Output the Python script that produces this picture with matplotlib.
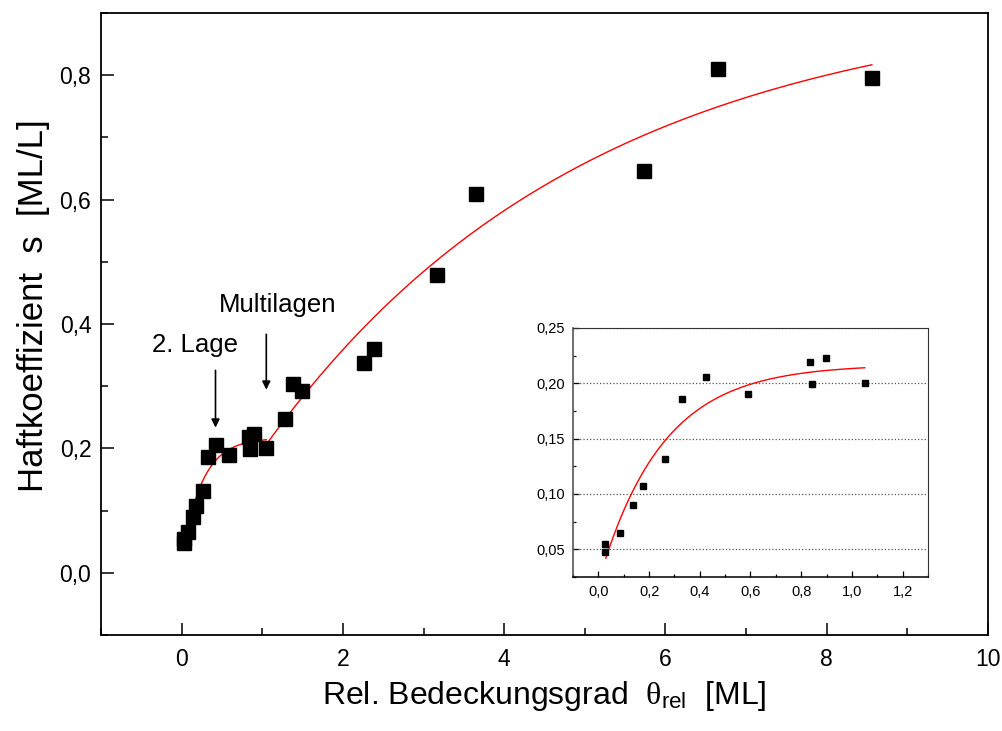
import matplotlib
matplotlib.use("Agg")
import matplotlib.pyplot as plt
import numpy as np
from matplotlib.ticker import MultipleLocator, FuncFormatter

plt.rcParams['font.family'] = ['Liberation Sans', 'DejaVu Sans']
plt.rcParams['mathtext.fontset'] = 'custom'
plt.rcParams['mathtext.rm'] = 'Liberation Sans'
plt.rcParams['mathtext.it'] = 'Liberation Serif'

# ---- data ----
theta = [0.025, 0.026, 0.084, 0.138, 0.176, 0.263, 0.329, 0.426, 0.589,
         0.836, 0.843, 0.899, 1.051,
         1.28, 1.38, 1.49, 2.26, 2.38, 3.165, 3.655, 5.73, 6.65, 8.56]
s = [0.048, 0.055, 0.065, 0.090, 0.107, 0.132, 0.186, 0.206, 0.190,
     0.219, 0.199, 0.223, 0.200,
     0.248, 0.304, 0.292, 0.337, 0.360, 0.478, 0.609, 0.646, 0.810, 0.795]
n_inset = 13  # first points shown in the inset

# fit curves y = a - b*exp(-x/t)  (two segments)
fit1 = dict(a=0.217, b=0.1966, t=0.25, x0=0.029, x1=1.051)
fit2 = dict(a=0.927, b=0.937, t=4.0, x0=1.05, x1=8.56)

main_xticks = [0, 2, 4, 6, 8, 10]
main_yticks = [0.0, 0.2, 0.4, 0.6, 0.8]
inset_xticks = [0.0, 0.2, 0.4, 0.6, 0.8, 1.0, 1.2]
inset_yticks = [0.05, 0.10, 0.15, 0.20, 0.25]


def fitcurve(p):
    x = np.linspace(p['x0'], p['x1'], 200)
    return x, p['a'] - p['b'] * np.exp(-x / p['t'])


def comma(fmt):
    return FuncFormatter(lambda v, pos: (fmt % v).replace('.', ','))


fig = plt.figure(figsize=(10.02, 7.31), dpi=100)
ax = fig.add_axes([0.1008, 0.1313, 0.8852, 0.8509])

ax.plot(theta, s, 's', color='black', markersize=9.5, zorder=3)
for p in (fit1, fit2):
    xx, yy = fitcurve(p)
    ax.plot(xx, yy, color='red', lw=1.0, zorder=2)

ax.set_xlim(-1, 10)
ax.set_ylim(-0.1, 0.9)
ax.set_xticks(main_xticks)
ax.set_yticks(main_yticks)
ax.xaxis.set_minor_locator(MultipleLocator(1))
ax.yaxis.set_minor_locator(MultipleLocator(0.1))
ax.xaxis.set_major_formatter(comma('%d'))
ax.yaxis.set_major_formatter(comma('%.1f'))
ax.tick_params(which='both', direction='in', labelsize=16.5, width=1.1)
ax.tick_params(which='major', length=9, pad=9)
ax.tick_params(which='minor', length=5)
ax.tick_params(axis='y', pad=7)
for sp in ax.spines.values():
    sp.set_linewidth(1.3)

ax.set_xlabel(r'Rel. Bedeckungsgrad  $\theta_{\mathrm{rel}}$  [ML]', fontsize=23, labelpad=6)
ax.set_ylabel('Haftkoeffizient  s  [ML/L]', fontsize=25)
ax.yaxis.set_label_coords(-0.058, 0.53)

# annotations
ax.annotate('', xy=(0.42, 0.229), xytext=(0.42, 0.33),
            arrowprops=dict(arrowstyle='-|>', color='black', lw=1.2, mutation_scale=12))
ax.text(0.17, 0.367, '2. Lage', fontsize=18.5, ha='center', va='center')
ax.annotate('', xy=(1.05, 0.29), xytext=(1.05, 0.388),
            arrowprops=dict(arrowstyle='-|>', color='black', lw=1.2, mutation_scale=12))
ax.text(1.19, 0.431, 'Multilagen', fontsize=18.5, ha='center', va='center')

# inset
ins = fig.add_axes([0.572, 0.2107, 0.354, 0.3406])
ins.plot(theta[:n_inset], s[:n_inset], 's', color='black', markersize=4.5, zorder=3)
xx, yy = fitcurve(fit1)
ins.plot(xx, yy, color='red', lw=1.0, zorder=2)
ins.set_xlim(-0.1, 1.3)
ins.set_ylim(0.025, 0.25)
ins.set_xticks(inset_xticks)
ins.set_yticks(inset_yticks)
ins.xaxis.set_minor_locator(MultipleLocator(0.1))
ins.yaxis.set_minor_locator(MultipleLocator(0.025))
ins.xaxis.set_major_formatter(comma('%.1f'))
ins.yaxis.set_major_formatter(comma('%.2f'))
ins.tick_params(which='both', direction='in', labelsize=10.5, width=0.9)
ins.tick_params(which='major', length=4, pad=6)
ins.tick_params(which='minor', length=2.5)
ins.grid(axis='y', which='major', linestyle=':', color='#555555', lw=0.9)
ins.spines['left'].set_linewidth(1.2)
ins.spines['left'].set_color('#555555')
ins.spines['bottom'].set_linewidth(1.1)
ins.spines['top'].set_color('#333333')
ins.spines['right'].set_color('#333333')

fig.savefig('out.png', dpi=100)
